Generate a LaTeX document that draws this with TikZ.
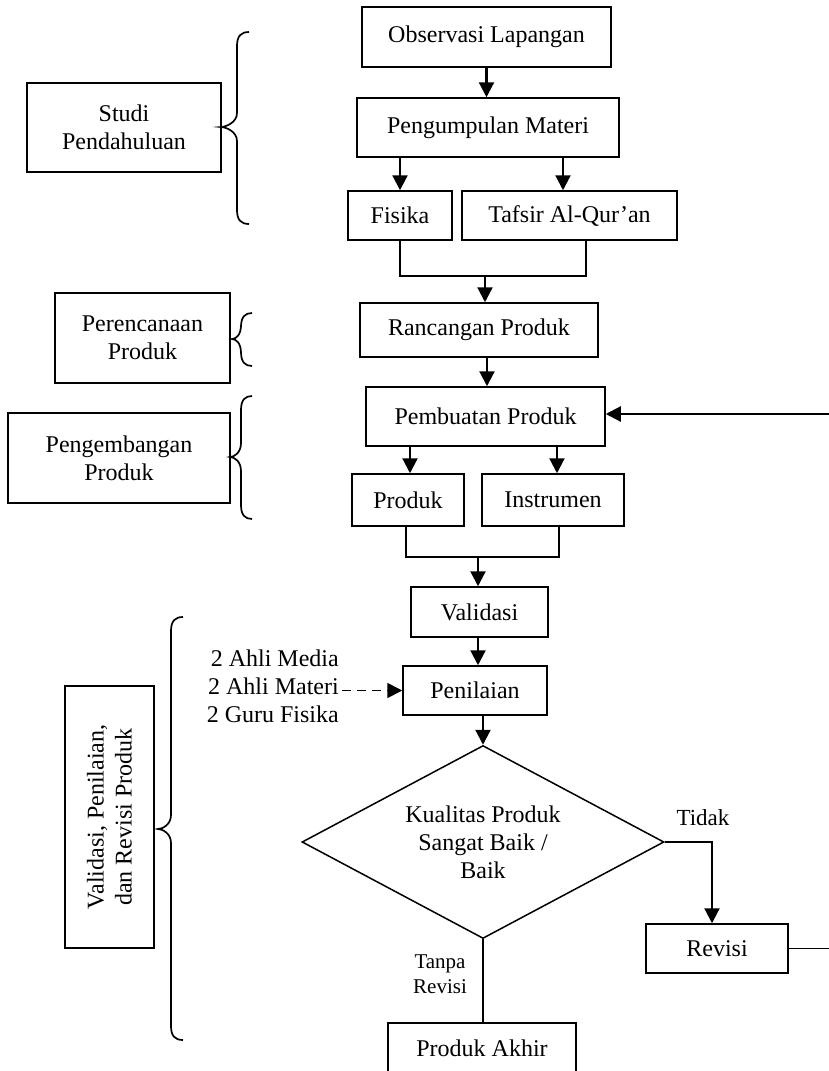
\documentclass[tikz,border=0pt]{standalone}
\usepackage{fontspec}
\setmainfont{Liberation Serif}
\usetikzlibrary{arrows.meta,shapes.geometric,calc}
\newcommand\drawbrace[6]{%
  \draw[brc] (#1,#4) .. controls (#2+4,#4) and (#2,#4+4) .. (#2,#4+14)
    -- (#2,#5-14) .. controls (#2,#5-4) and (#3+4,#5) .. (#3,#5)
    .. controls (#3+4,#5) and (#2,#5+4) .. (#2,#5+14)
    -- (#2,#6-14) .. controls (#2,#6-4) and (#2+4,#6) .. (#1,#6);}
\begin{document}
\begin{tikzpicture}[x=1pt,y=-1pt,
  box/.style={draw,line width=1.5pt,inner sep=0pt,align=center,font=\fontsize{24}{28}\selectfont},
  arr/.style={line width=2.2pt,-{Triangle[length=15pt,width=15pt]}},
  ln/.style={line width=1.6pt},
  thinln/.style={line width=1.3pt},
  brc/.style={line width=1.7pt},
  lbl/.style={inner sep=0pt,align=center}]
\useasboundingbox (0,0) rectangle (829,1071);

% main column
\node[box,minimum width=249pt,minimum height=60pt] (obs) at (486.5,37) {Observasi Lapangan};
\node[box,minimum width=262pt,minimum height=59pt] (peng) at (488,127.5) {Pengumpulan Materi};
\node[box,minimum width=104pt,minimum height=49pt] (fis) at (400,215.5) {Fisika};
\node[box,minimum width=215pt,minimum height=49pt] (taf) at (569.5,215.5) {Tafsir Al-Qur’an};
\node[box,minimum width=238pt,minimum height=54pt] (ran) at (479,330) {Rancangan Produk};
\node[box,minimum width=239pt,minimum height=59pt] (pemb) at (485.5,416.5) {Pembuatan Produk};
\node[box,minimum width=112pt,minimum height=52pt] (prod) at (408,500) {Produk};
\node[box,minimum width=142pt,minimum height=52pt] (inst) at (553,500) {Instrumen};
\node[box,minimum width=137pt,minimum height=50pt] (val) at (479.5,612) {Validasi};
\node[box,minimum width=144pt,minimum height=49pt] (pen) at (475,690.5) {Penilaian};
\node[box,diamond,shape aspect=1.876,minimum width=362pt,minimum height=193pt] (dia) at (483,842) {Kualitas Produk\\Sangat Baik /\\Baik};
\node[box,minimum width=142pt,minimum height=49pt] (rev) at (717,948.5) {Revisi};
\node[box,minimum width=188pt,minimum height=50pt] (akhir) at (482,1048) {Produk Akhir};

% left column
\node[box,minimum width=194pt,minimum height=89pt] (studi) at (124,127.5) {Studi\\Pendahuluan};
\node[box,minimum width=175pt,minimum height=90pt] (peren) at (142.5,338) {Perencanaan\\Produk};
\node[box,minimum width=222pt,minimum height=90pt] (pengem) at (119,458) {Pengembangan\\Produk};
\node[box,rotate=90,minimum width=262pt,minimum height=89pt] (vbox) at (109.5,817) {Validasi, Penilaian,\\dan Revisi Produk};

% labels
\node[lbl,align=right,anchor=east,font=\fontsize{24}{28}\selectfont] (ahli) at (339,686) {2 Ahli Media\\2 Ahli Materi\\2 Guru Fisika};
\node[lbl,font=\fontsize{23}{26}\selectfont] (tidak) at (703,818) {Tidak};
\node[lbl,font=\fontsize{21}{25}\selectfont] (tanpa) at (440,974) {Tanpa\\Revisi};

% connectors
\draw[arr] (obs.south) -- (obs.south |- peng.north);
\draw[arr] (fis.north |- peng.south) -- (fis.north);
\draw[arr] ([xshift=-6.5pt]taf.north |- peng.south) -- ([xshift=-6.5pt]taf.north);
\draw[ln] (fis.south) -- ++(0,35) -| ([xshift=16.5pt]taf.south);
\coordinate (j1) at (485,275);
\draw[arr] (j1) -- (j1 |- ran.north);
\draw[arr] ([xshift=8pt]ran.south) -- ([xshift=8pt]ran.south |- pemb.north);
\draw[arr] ([xshift=2pt]prod.north |- pemb.south) -- ([xshift=2pt]prod.north);
\draw[arr] ([xshift=4pt]inst.north |- pemb.south) -- ([xshift=4pt]inst.north);
\draw[ln] ([xshift=-2pt]prod.south) -- ++(0,30) -| ([xshift=6pt]inst.south);
\coordinate (j2) at (478,556);
\draw[arr] (j2) -- (j2 |- val.north);
\draw[arr] ([xshift=-1.5pt]val.south) -- ([xshift=-1.5pt]val.south |- pen.north);
\draw[arr] (dia.north |- pen.south) -- (dia.north);
\draw[arr,dash pattern=on 9pt off 6pt,line width=1.8pt] ([xshift=3pt]ahli.east |- pen.west) -- (pen.west);
\draw[arr] (dia.east) -| ([xshift=-5pt]rev.north);
\coordinate (rout) at (829,949);
\draw[thinln] (rev.east) -- (rout |- rev.east);
\coordinate (rin) at (829,414);
\draw[arr] (rin) -- (pemb.east |- rin);
\draw[thinln] (dia.south) -- (dia.south |- akhir.north);

% braces
\drawbrace{249}{237}{221}{32}{127}{224}
\drawbrace{252}{241}{232}{313}{339}{366}
\drawbrace{252}{241}{230}{396}{457}{519}
\drawbrace{183}{171}{158}{617}{829}{1040}
\end{tikzpicture}
\end{document}
